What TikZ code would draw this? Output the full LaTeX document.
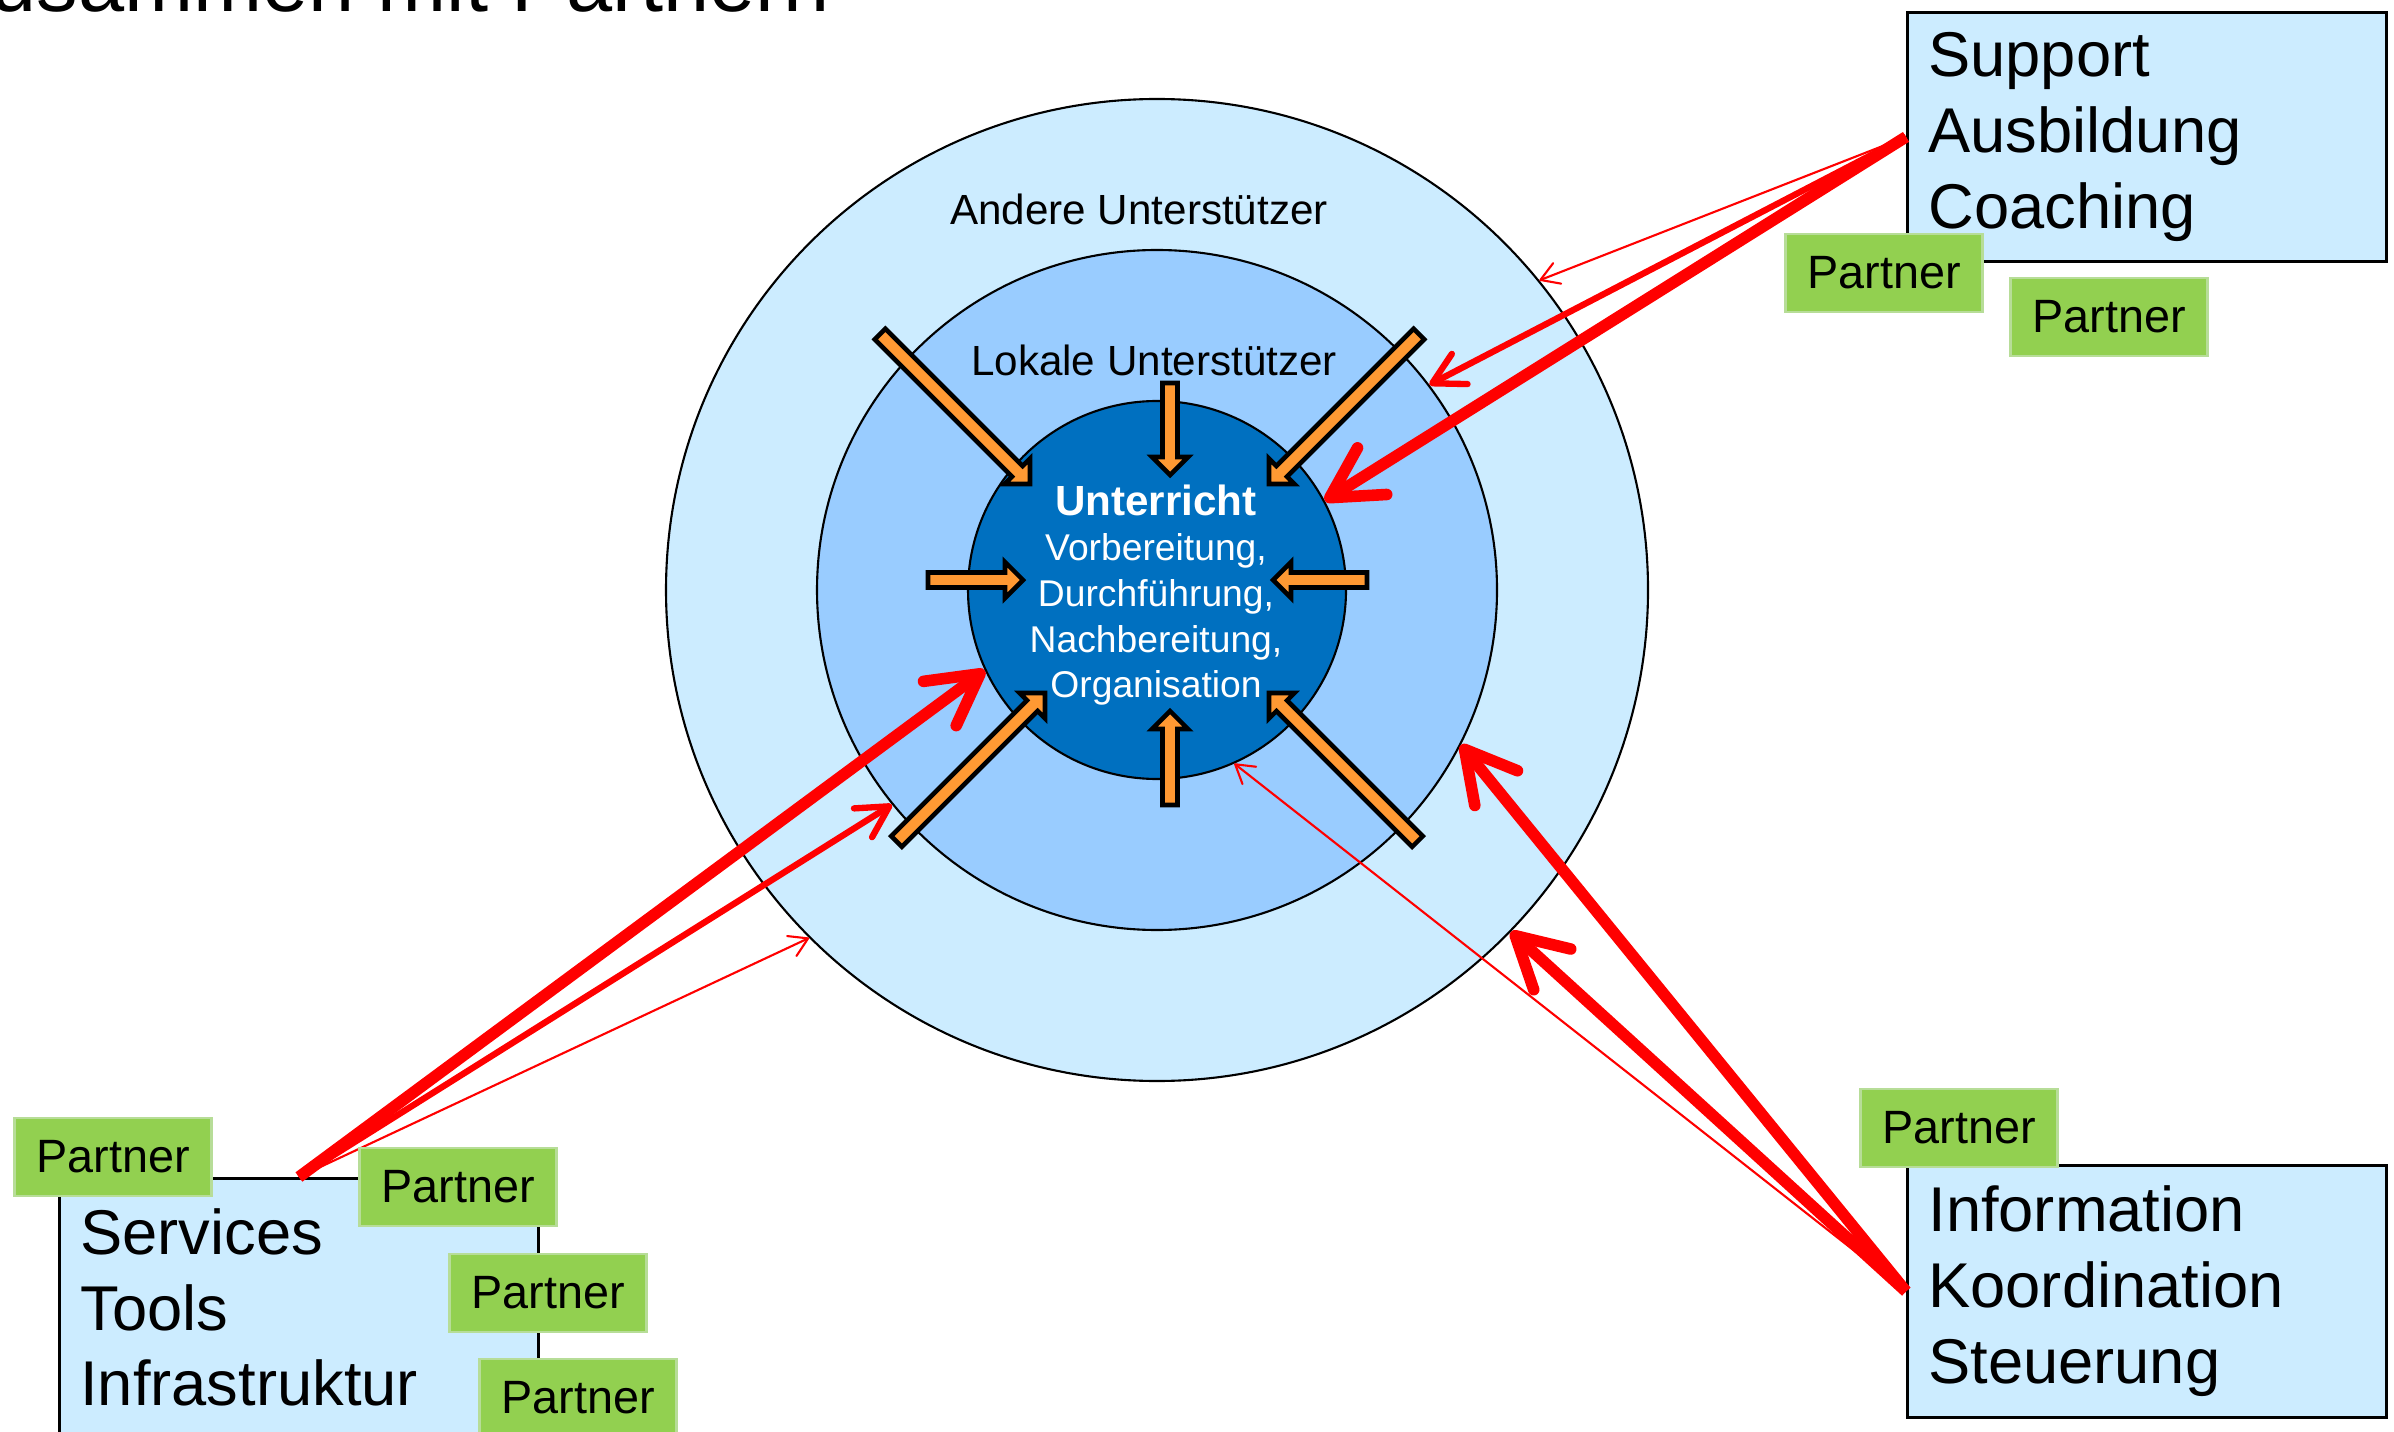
\documentclass[tikz,border=0pt]{standalone}
\usepackage{fontspec}
\setmainfont{Liberation Sans}
\usetikzlibrary{arrows.meta,positioning}

\definecolor{ringout}{HTML}{CCECFF}
\definecolor{ringmid}{HTML}{99CCFF}
\definecolor{core}{HTML}{0070C0}
\definecolor{blockorange}{HTML}{FF9933}
\definecolor{partnergreen}{HTML}{92D050}
\definecolor{partnerline}{HTML}{B7DD98}

\tikzset{
  ring/.style={circle, draw=black, line width=0.6pt, inner sep=0pt},
  infobox/.style={draw=black, line width=0.8pt, fill=ringout, anchor=north west, align=left,
    inner xsep=0.21cm, text width=4.37cm, font=\fontsize{18}{21.6}\selectfont},
  partner/.style={fill=partnergreen, draw=partnerline, line width=0.8pt,
    minimum width=1.97cm, minimum height=0.78cm, font=\fontsize{13.3}{16}\selectfont},
  blockarrow/.style={draw=black, fill=blockorange, line width=1.3pt, line join=miter},
  redthin/.style={draw=red, line width=0.6pt, -{Straight Barb[length=1.8mm,width=2.2mm,round]}},
  redmid/.style={draw=red, line width=1.8pt, -{Straight Barb[length=3.1mm,width=3.4mm,round]}},
  redthick/.style={draw=red, line width=3.3pt, -{Straight Barb[length=5mm,width=5.5mm,round]}},
}

\begin{document}
\begin{tikzpicture}
\useasboundingbox (0,0) rectangle (23.94,14.31);
\clip (0,0) rectangle (23.94,14.31);

% title, mostly cut off at the top
\node[anchor=base east, font=\fontsize{23.6}{28}\selectfont] (titel) at (8.42,14.19) {Zusammen mit Partnern};

% rings
\node[ring, fill=ringout, minimum size=9.82cm] (andere) at (11.57,8.41) {};
\node[ring, fill=ringmid, minimum size=6.80cm] (lokale) at (andere.center) {};
\node[ring, fill=core, minimum size=3.78cm] (unterricht) at (andere.center) {};
\node[text=white, align=center, font=\fontsize{10.6}{13}\selectfont] (unterrichttext) at (11.56,8.36)
  {{\bfseries\fontsize{12}{13}\selectfont Unterricht}\\Vorbereitung,\\Durchführung,\\Nachbereitung,\\Organisation};
\node[font=\fontsize{12}{14}\selectfont] (anderetext) at (11.39,12.22) {Andere Unterstützer};
\node[font=\fontsize{12}{14}\selectfont] (lokaletext) at (11.54,10.71) {Lokale Unterstützer};

% orange block arrows: tip x/y, direction, length
\foreach \x/\y/\ang/\len in {11.70/9.56/-90/0.92, 11.70/7.20/90/0.94, 10.23/8.51/0/0.95, 12.73/8.51/180/0.94,
  10.30/9.47/-45/2.12, 12.69/9.47/-135/2.12, 10.45/7.38/45/2.10, 12.69/7.38/135/2.10}
  \draw[blockarrow, shift={(\x,\y)}, rotate=\ang] (0,0) -- (-0.18,0.18) -- (-0.18,0.075) -- (-\len,0.075)
    -- (-\len,-0.075) -- (-0.18,-0.075) -- (-0.18,-0.18) -- cycle;

% boxes
\node[infobox, minimum height=2.49cm] (support) at (19.06,14.20) {Support\\Ausbildung\\Coaching};
\node[infobox, minimum height=2.58cm] (services) at (0.58,2.54) {Services\\Tools\\Infrastruktur};
\node[infobox, minimum height=2.52cm] (info) at (19.06,2.67) {Information\\Koordination\\Steuerung};

% red arrows
\draw[redthin] (support.west) -- (andere.39.8);
\draw[redmid] (support.west) -- (lokale.37.9);
\draw[redthick] (support.west) -- (unterricht.28.7);
\draw[redthick] (services.north) -- (unterricht.205.5);
\draw[redmid] (services.north) -- (lokale.219.7);
\draw[redthin] (services.north) -- (andere.225.1);
\draw[redthick] (info.west) -- (lokale.-27.7);
\draw[redthick] (info.west) -- (andere.-44.8);
\draw[redthin] (info.west) -- (unterricht.-66.5);

% partners
\node[partner] (partner1) at (18.84,11.58) {Partner};
\node[partner] (partner2) at (21.09,11.14) {Partner};
\node[partner] (partner3) at (1.13,2.74) {Partner};
\node[partner] (partner4) at (4.58,2.44) {Partner};
\node[partner] (partner5) at (5.48,1.38) {Partner};
\node[partner] (partner6) at (5.78,0.33) {Partner};
\node[partner] (partner7) at (19.59,3.03) {Partner};
\end{tikzpicture}
\end{document}
